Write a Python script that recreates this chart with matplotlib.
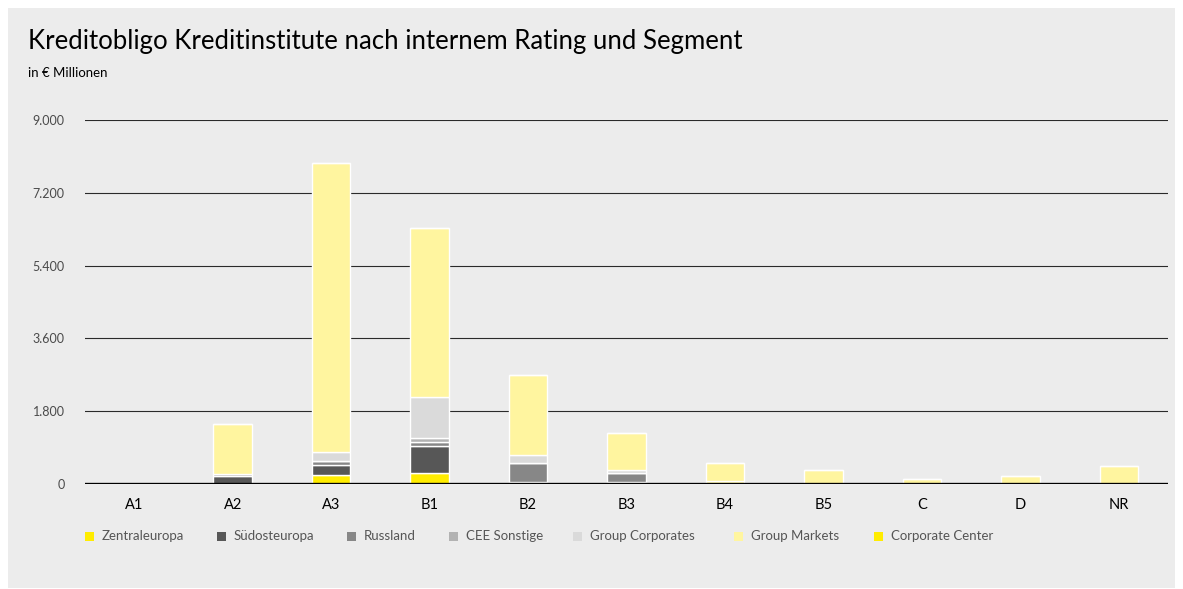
import matplotlib.pyplot as plt
import numpy as np
from matplotlib.patches import Rectangle

plt.rcParams['font.family'] = ['Lato', 'DejaVu Sans']

kategorien = ['A1', 'A2', 'A3', 'B1', 'B2', 'B3', 'B4', 'B5', 'C', 'D', 'NR']
segmente = ['Zentraleuropa', 'Südosteuropa', 'Russland', 'CEE Sonstige',
            'Group Corporates', 'Group Markets', 'Corporate Center']
zentraleuropa = [0, 0, 230, 280, 0, 0, 80, 0, 0, 0, 0]
suedosteuropa = [0, 200, 250, 650, 50, 60, 0, 0, 0, 0, 0]
russland = [0, 50, 90, 110, 470, 220, 0, 0, 0, 0, 0]
cee_sonstige = [0, 0, 0, 100, 0, 0, 0, 0, 0, 0, 0]
group_corporates = [0, 0, 220, 1000, 200, 70, 0, 0, 0, 0, 0]
group_markets = [0, 1230, 7150, 4180, 1980, 900, 440, 340, 120, 200, 445]
corporate_center = [0, 0, 0, 0, 0, 0, 0, 0, 0, 0, 0]
yticks = [0, 1800, 3600, 5400, 7200, 9000]
ytick_labels = ['0', '1.800', '3.600', '5.400', '7.200', '9.000']

farben = ['#ffec00', '#575757', '#878787', '#b2b2b2', '#dadada', '#fff59f', '#ffec00']
werte = [zentraleuropa, suedosteuropa, russland, cee_sonstige,
         group_corporates, group_markets, corporate_center]

W, H = 1183, 589
fig = plt.figure(figsize=(W / 100, H / 100), dpi=100)
fig.patch.set_facecolor('white')
fig.patches.append(Rectangle((8 / W, 1 - 588 / H), 1167 / W, 580 / H,
                             transform=fig.transFigure, facecolor='#ececec',
                             edgecolor='none', zorder=-5))

ax = fig.add_axes([85 / W, 1 - 484 / H, 1083 / W, 364 / H])
ax.set_zorder(2)
ax.set_facecolor('none')
x = np.arange(len(kategorien))
unten = np.zeros(len(kategorien))
for name, v, c in zip(segmente, werte, farben):
    v = np.array(v, dtype=float)
    ax.bar(x, v, bottom=unten, width=0.39, color=c, edgecolor='white',
           linewidth=1.0, zorder=3)
    unten += v

ax.set_xlim(-0.5, len(kategorien) - 0.5)
ax.set_ylim(0, 9000)
for y in yticks[1:]:
    ax.axhline(y, color='#2a2a2a', linewidth=0.8, zorder=1)
ax.axhline(0, color='black', linewidth=2.4, zorder=5)
for s in ax.spines.values():
    s.set_visible(False)
ax.set_yticks(yticks)
ax.set_yticklabels(ytick_labels, color='#4a4a4a', fontsize=9)
ax.set_xticks(x)
ax.set_xticklabels(kategorien, fontsize=10.5, color='black')
ax.tick_params(axis='both', length=0)
ax.tick_params(axis='y', pad=14.5)
ax.tick_params(axis='x', pad=10)

fig.text(28 / W, 1 - 49 / H, 'Kreditobligo Kreditinstitute nach internem Rating und Segment',
         fontsize=18.5, color='black', va='baseline')
fig.text(28 / W, 1 - 77 / H, 'in € Millionen', fontsize=9.5, color='black', va='baseline')

# Legende
leg_x = [85, 217, 347, 449, 573, 734, 874]
for lx, name, c in zip(leg_x, segmente, farben):
    fig.patches.append(Rectangle((lx / W, 1 - 541 / H), 9 / W, 9 / H,
                                 transform=fig.transFigure, facecolor=c,
                                 edgecolor='none', zorder=2))
    fig.text((lx + 17) / W, 1 - 536.5 / H, name, fontsize=9.5, color='#555555',
             va='center')

fig.savefig('out.png', dpi=100)
